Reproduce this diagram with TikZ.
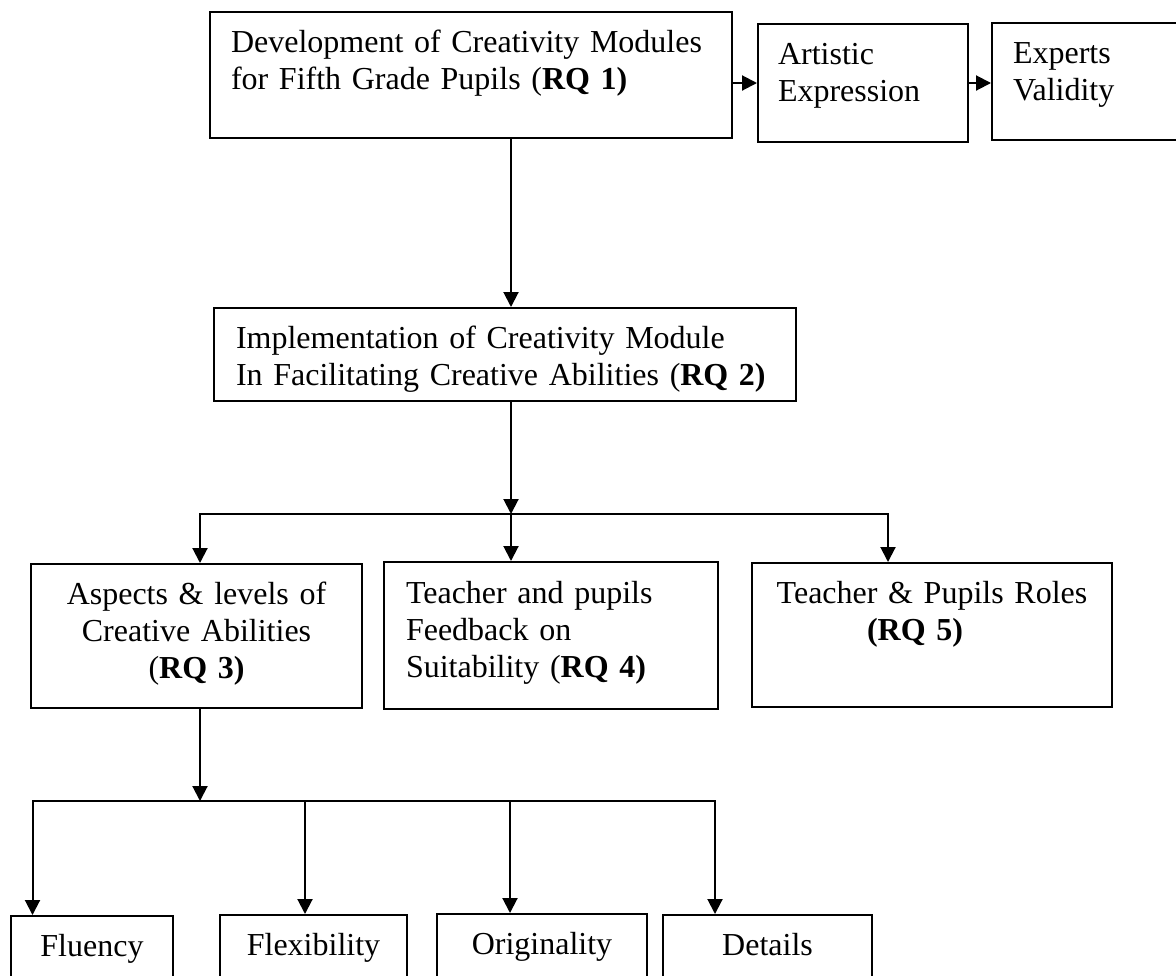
\documentclass[tikz,border=0pt]{standalone}
\usepackage{fontspec}
\setmainfont{Liberation Serif}
\usetikzlibrary{arrows.meta}
\tikzstyle{box}=[rectangle,draw,line width=1pt,anchor=north west,inner ysep=0pt,text height=20pt,font=\fontsize{16}{18.5}\selectfont]
\tikzstyle{textbox}=[box,align=left,inner xsep=10.5pt]
\tikzstyle{titlebox}=[box,align=center,inner xsep=0pt]
\tikzstyle{flow}=[-{Triangle[length=7.5pt,width=7.5pt]},line width=1pt]

\begin{document}
\begin{tikzpicture}[x=0.5pt,y=-0.5pt]
\useasboundingbox (0,0) rectangle (1176,975);
\clip (0,0) rectangle (1176,975);

\node (devmod) [textbox,text width=240pt,text depth=43pt] at (209,11) {Development of Creativity Modules\\ for Fifth Grade Pupils (\textbf{RQ 1)}} ;
\node (artexp) [textbox,inner xsep=10pt,text width=85pt,text depth=39pt] at (757,23) {Artistic\\ Expression} ;
\node (expval) [textbox,text width=89pt,text depth=38.5pt] at (991,22) {Experts\\ Validity} ;

\node (impl) [textbox,inner xsep=11pt,text width=269pt,text depth=26.5pt] at (213,307) {Implementation of Creativity Module\\ In Facilitating Creative Abilities (\textbf{RQ 2)}} ;

\node (aspects) [titlebox,text width=165.5pt,text depth=52pt] at (30,563) {Aspects \& levels of\\ Creative Abilities\\ (\textbf{RQ 3)}} ;
\node (feedback) [textbox,inner xsep=11pt,text width=145pt,text height=20.5pt,text depth=53pt] at (383,561) {Teacher and pupils\\ Feedback on\\ Suitability (\textbf{RQ 4)}} ;
\node (roles) [titlebox,text width=180pt,text depth=52pt] at (751,562) {Teacher \& Pupils Roles\\ \textbf{(RQ 5)}\kern17pt} ;

\node (fluency) [titlebox,text width=81pt,text depth=30pt] at (10,915) {Fluency} ;
\node (flex) [titlebox,text width=93.5pt,text depth=30pt] at (219,914) {Flexibility} ;
\node (orig) [titlebox,text width=105pt,text depth=30pt] at (436,913) {Originality} ;
\node (details) [titlebox,text width=104.5pt,text depth=30pt] at (662,914) {Details} ;

\coordinate (fork1) at (511,514) ;
\coordinate (fork2) at (200,801) ;

\draw [flow] (devmod.east |- artexp.west) -- (artexp.west) ;
\draw [flow] (artexp.east) -- (artexp.east -| expval.west) ;
\draw [flow] (devmod.south -| fork1) -- (impl.north -| fork1) ;

\draw [flow] (impl.south -| fork1) -- (fork1) ;
\draw [flow] (fork1) -| (aspects.north -| fork2) ;
\draw [flow] (fork1) -- (feedback.north -| fork1) ;
\draw [flow] (fork1) -| ([xshift=-22pt]roles.north) ;

\draw [flow] (aspects.south -| fork2) -- (fork2) ;
\draw [flow] (fork2) -| ([xshift=-29.75pt]fluency.north) ;
\draw [flow] ([xshift=-4.25pt]flex.north |- fork2) -- ([xshift=-4.25pt]flex.north) ;
\draw [flow] ([xshift=-16pt]orig.north |- fork2) -- ([xshift=-16pt]orig.north) ;
\draw [flow] (fork2) -| ([xshift=-26.25pt]details.north) ;

\end{tikzpicture}
\end{document}
